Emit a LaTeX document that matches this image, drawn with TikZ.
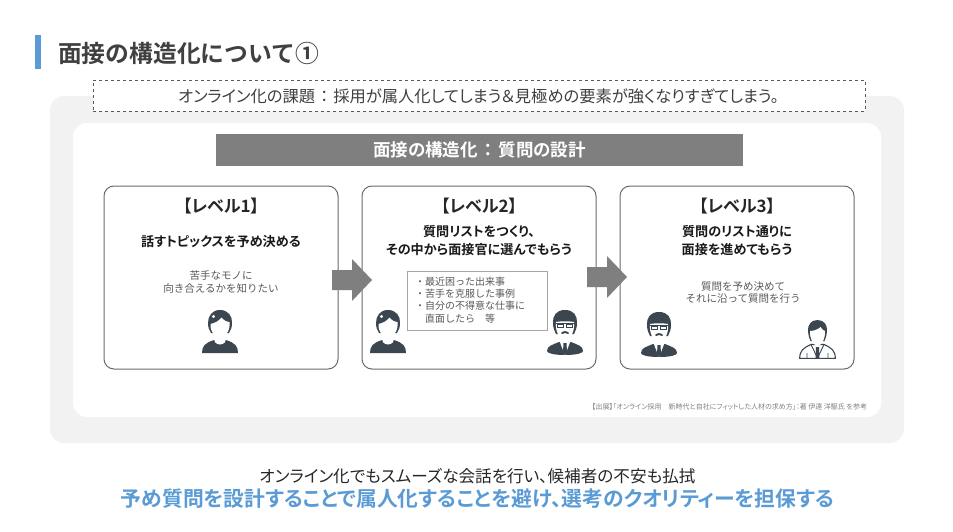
\documentclass[tikz,border=0pt]{standalone}
\usepackage{fontspec}
\setmainfont{Noto Sans CJK JP}[RawFeature=+palt]
\newfontfamily\jpb{Noto Sans CJK JP Bold}[RawFeature=+palt]
\newfontfamily\jpw{Noto Sans CJK JP}
\newfontfamily\jpbw{Noto Sans CJK JP Bold}
\definecolor{ink}{HTML}{404040}
\definecolor{soft}{HTML}{595959}
\definecolor{accent}{HTML}{5B9BD5}
\definecolor{panel}{HTML}{F2F2F2}
\definecolor{band}{HTML}{7F7F7F}
\definecolor{icon}{HTML}{3B4650}
\tikzset{
  txt/.style={inner sep=0pt,outer sep=0pt,align=center,text=ink},
  cardbox/.style={draw=black!58,line width=1pt,fill=white,rounded corners=10pt,inner sep=0pt,minimum width=234pt,minimum height=183pt},
  lvl/.style={txt,font=\jpb\fontsize{17}{20}\selectfont,text=black!85},
  head/.style={txt,font=\jpb\fontsize{13.1}{18}\selectfont,text=black!90},
  note/.style={txt,font=\jpw\fontsize{10.5}{12.6}\selectfont,text=soft},
  blockarrow/.style={fill=band,draw=none},
  pics/woman/.style={code={
    \fill[icon] (0,43) .. controls (0,36) and (3,33) .. (12,30) -- (24,30) .. controls (33,33) and (36,36) .. (36,43) -- cycle;
    \fill[white] (13,20) -- (23,20) -- (23,29) .. controls (25,31) and (22,34.5) .. (18,34.5) .. controls (14,34.5) and (11,31) .. (13,29) -- cycle;
    \fill[icon] (18,0) .. controls (26,0) and (30.5,6) .. (30,13) .. controls (30,17) and (29,20) .. (27,23) -- (9,23) .. controls (7,20) and (6,17) .. (6,13) .. controls (6,6) and (10,0) .. (18,0) -- cycle;
    \fill[white] (8.5,14) .. controls (13,13) and (17,11) .. (19.5,7.5) .. controls (21,10) and (25,12) .. (27.5,12) .. controls (28.5,21) and (23,27.5) .. (18,27.5) .. controls (13,27.5) and (8,22) .. (8.5,14) -- cycle;
    \fill[white] (11.5,6.5) circle (1.6);
  }},
  pics/boss/.style={code={
    \fill[icon] (0,41) .. controls (0,36) and (5,35) .. (12,32) -- (24,32) .. controls (31,35) and (36,36) .. (36,41) .. controls (36,43) and (30,45) .. (18,45) .. controls (6,45) and (0,43) .. (0,41) -- cycle;
    \fill[white] (12.5,31) -- (23.5,31) -- (18.2,45) -- (17.8,45) -- cycle;
    \fill[icon] (16.5,33) -- (19.5,33) -- (20,42) -- (18,45) -- (16,42) -- cycle;
    \fill[icon] (18,0) .. controls (27,0) and (30.5,6) .. (30,13) .. controls (30,18) and (28.5,21) .. (27,24) -- (9,24) .. controls (7.5,21) and (6,18) .. (6,13) .. controls (5.5,6) and (9,0) .. (18,0) -- cycle;
    \fill[white] (9,12) .. controls (14,11) and (22,11) .. (27,12) .. controls (28,22) and (23,30) .. (18,30) .. controls (13,30) and (8,22) .. (9,12) -- cycle;
    \draw[icon,line width=.9pt,fill=white] (8,13.5) -- (28,13.5) (10.5,14) rectangle (16.5,17.5) (19.5,14) rectangle (25.5,17.5);
    \fill[icon] (14,23) .. controls (16,20.5) and (20,20.5) .. (22,23) -- (21,24) -- (18,23) -- (15,24) -- cycle;
  }},
  pics/suit/.style={code={
    \draw[icon,line width=1.1pt,fill=white] (.7,38.3) .. controls (.7,31) and (4,28) .. (12,24.5) -- (25,24.5) .. controls (33,28) and (36.3,31) .. (36.3,38.3) -- cycle;
    \draw[icon,line width=.9pt] (12,24.5) -- (18.5,38) -- (25,24.5) (8,38) -- (8,33) (29,38) -- (29,33);
    \fill[icon] (17,27) -- (20,27) -- (20.5,38.3) -- (16.5,38.3) -- cycle;
    \fill[icon] (18.5,0) .. controls (25,0) and (28.5,5) .. (28,11) .. controls (27.5,16) and (26.5,19) .. (25.5,21) -- (11.5,21) .. controls (10.5,19) and (9.5,16) .. (9,11) .. controls (8.5,5) and (12,0) .. (18.5,0) -- cycle;
    \fill[white] (11,11) .. controls (15,11) and (20,9) .. (21.5,7) .. controls (23,9) and (24.5,11) .. (26,11) .. controls (26.5,19) and (22,26) .. (18.5,26) .. controls (15,26) and (10.5,19) .. (11,11) -- cycle;
  }}
}
\begin{document}
\begin{tikzpicture}[x=1pt,y=-1pt]
\useasboundingbox (0,0) rectangle (953,532);
\fill[accent] (35,35) rectangle (41,69);
\node[txt,anchor=west,font=\jpbw\fontsize{23.8}{26}\selectfont] (title) at (58,53) {面接の構造化について①};
\fill[panel] (50,96) [rounded corners=14pt] rectangle (904,443);
\node[draw=soft,dashed,fill=white,line width=.6pt,minimum width=772pt,minimum height=31pt,inner sep=0pt] (issuebox) at (479,95.5) {};
\node[txt,font=\fontsize{16.3}{19}\selectfont] (issue) at (478.5,96) {オンライン化の課題\hspace{5pt}：\hspace{5pt}採用が属人化してしまう＆見極めの要素が強くなりすぎてしまう。};
\fill[white] (73,123) [rounded corners=14pt] rectangle (881,417);
\node[fill=band,minimum width=527pt,minimum height=32pt,inner sep=0pt,text=white,font=\jpb\fontsize{17.5}{19}\selectfont] (band) at (479.5,150) {面接の構造化\hspace{6pt}：\hspace{6pt}質問の設計};
\node[cardbox] (c1) at (221,277.5) {};
\node[cardbox] (c2) at (479,277.5) {};
\node[cardbox] (c3) at (737,277.5) {};
\node[lvl] (l1) at (221,206) {【レベル1】};
\node[lvl] (l2) at (479,206) {【レベル2】};
\node[lvl] (l3) at (737,206) {【レベル3】};
\node[head] (h1) at (221,242) {話すトピックスを予め決める};
\node[head] (h2) at (479,241) {質問リストをつくり、\\その中から面接官に選んでもらう};
\node[head] (h3) at (737,241) {質問のリスト通りに\\面接を進めてもらう};
\node[note] (n1) at (221,282) {苦手なモノに\\向き合えるかを知りたい};
\node[note] (n3) at (743,292.5) {質問を予め決めて\\それに沿って質問を行う};
\node[draw=black!35,line width=.8pt,fill=white,minimum width=140pt,minimum height=59pt,inner sep=0pt] (listbox) at (477,300.5) {};
\node[note,align=left,anchor=west,font=\jpw\fontsize{10}{12.4}\selectfont] (list) at (415,300) {・最近困った出来事\\・苦手を克服した事例\\・自分の不得意な仕事に\\　直面したら　等};
\fill[blockarrow] (332,270) -- (352,270) -- (352,259) -- (372,280) -- (352,301) -- (352,290) -- (332,290) -- cycle;
\fill[blockarrow] (587,267) -- (607,267) -- (607,256) -- (627,277) -- (607,298) -- (607,287) -- (587,287) -- cycle;
\pic at (202,310) {woman};
\pic at (370,310) {woman};
\pic at (547,310) {boss};
\pic at (641,312) {boss};
\pic at (799,320) {suit};
\node[txt,anchor=east,font=\fontsize{7}{8}\selectfont,text=black!50] (cite) at (867,407) {【出展】「オンライン採用　新時代と自社にフィットした人材の求め方」：著 伊達 洋駆氏 を参考};
\node[txt,font=\fontsize{16.6}{19}\selectfont,text=black!85] (s1) at (477.5,476) {オンライン化でもスムーズな会話を行い、候補者の不安も払拭};
\node[txt,font=\jpb\fontsize{20.8}{24}\selectfont,text=accent] (s2) at (477.5,499) {予め質問を設計することで属人化することを避け、選考のクオリティーを担保する};
\end{tikzpicture}
\end{document}
